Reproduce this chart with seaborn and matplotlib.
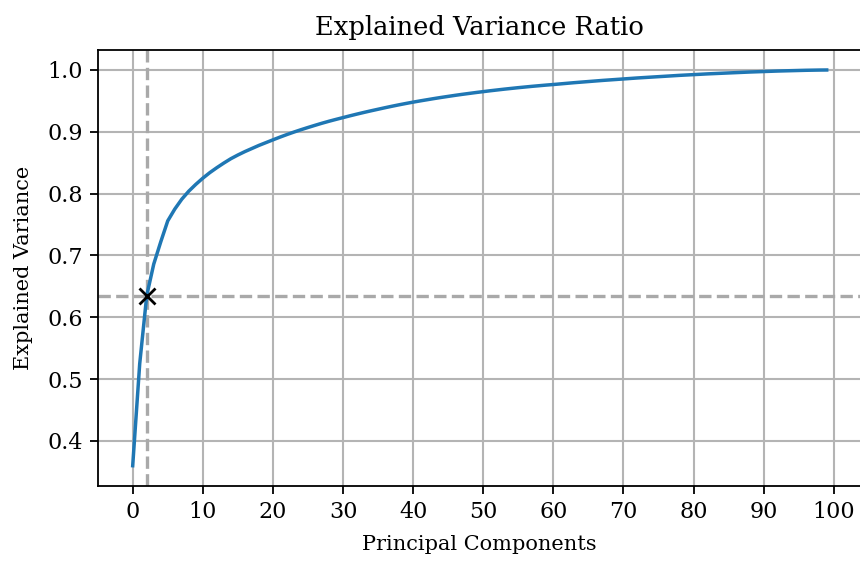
import numpy as np
import pandas as pd
import matplotlib
matplotlib.use("Agg")
import matplotlib.pyplot as plt
import seaborn as sns

# cumulative explained variance per principal component
components = list(range(100))
cum_variance = [
    0.3600, 0.5250, 0.6350, 0.6860, 0.7220, 0.7560, 0.7750, 0.7910, 0.8040, 0.8150,
    0.8250, 0.8340, 0.8420, 0.8495, 0.8565, 0.8625, 0.8680, 0.8730, 0.8780, 0.8825,
    0.8870, 0.8914, 0.8956, 0.8996, 0.9034, 0.9070, 0.9105, 0.9139, 0.9171, 0.9201,
    0.9230, 0.9259, 0.9287, 0.9314, 0.9340, 0.9365, 0.9390, 0.9414, 0.9437, 0.9459,
    0.9480, 0.9500, 0.9519, 0.9538, 0.9556, 0.9573, 0.9590, 0.9606, 0.9621, 0.9636,
    0.9650, 0.9664, 0.9677, 0.9690, 0.9702, 0.9714, 0.9725, 0.9736, 0.9746, 0.9756,
    0.9765, 0.9775, 0.9785, 0.9795, 0.9804, 0.9813, 0.9822, 0.9831, 0.9839, 0.9847,
    0.9855, 0.9863, 0.9871, 0.9878, 0.9885, 0.9892, 0.9899, 0.9906, 0.9913, 0.9919,
    0.9925, 0.9931, 0.9937, 0.9942, 0.9947, 0.9952, 0.9957, 0.9962, 0.9967, 0.9971,
    0.9975, 0.9979, 0.9983, 0.9986, 0.9989, 0.9992, 0.9995, 0.9997, 0.9999, 1.0000,
]
elbow_x = 2
elbow_y = 0.635
x_ticks = list(range(0, 101, 10))
y_ticks = [0.4, 0.5, 0.6, 0.7, 0.8, 0.9, 1.0]

plt.rcParams['font.family'] = ['DejaVu Serif']

df = pd.DataFrame({"Component": components, "Variance": cum_variance})

fig = plt.figure(figsize=(8.6, 5.64), dpi=100)
ax = fig.add_axes([98 / 860, (564 - 485.5) / 564, (861.7 - 98.3) / 860, (485.5 - 50.2) / 564])

sns.lineplot(data=df, x="Component", y="Variance", ax=ax, color="#1f77b4", linewidth=2.5, zorder=3)
ax.axvline(elbow_x, color="darkgray", linestyle="--", linewidth=2.4, zorder=2)
ax.axhline(elbow_y, color="darkgray", linestyle="--", linewidth=2.4, zorder=2)
ax.plot([elbow_x], [elbow_y], marker="x", color="black", markersize=11, markeredgewidth=2, zorder=4)

ax.set_xticks(x_ticks)
ax.set_yticks(y_ticks)
ax.set_yticklabels([f"{v:.1f}" for v in y_ticks])
ax.grid(True, color="#b4b4b4", linewidth=1.5, zorder=0)
ax.set_axisbelow(True)
ax.tick_params(labelsize=16, length=6, width=1.3, pad=5)
for s in ax.spines.values():
    s.set_linewidth(1.3)

ax.set_title("Explained Variance Ratio", fontsize=18.5, pad=11)
ax.set_xlabel("Principal Components", fontsize=15, labelpad=9)
ax.set_ylabel("Explained Variance", fontsize=15, labelpad=10)

fig.savefig("out.png", dpi=100)
